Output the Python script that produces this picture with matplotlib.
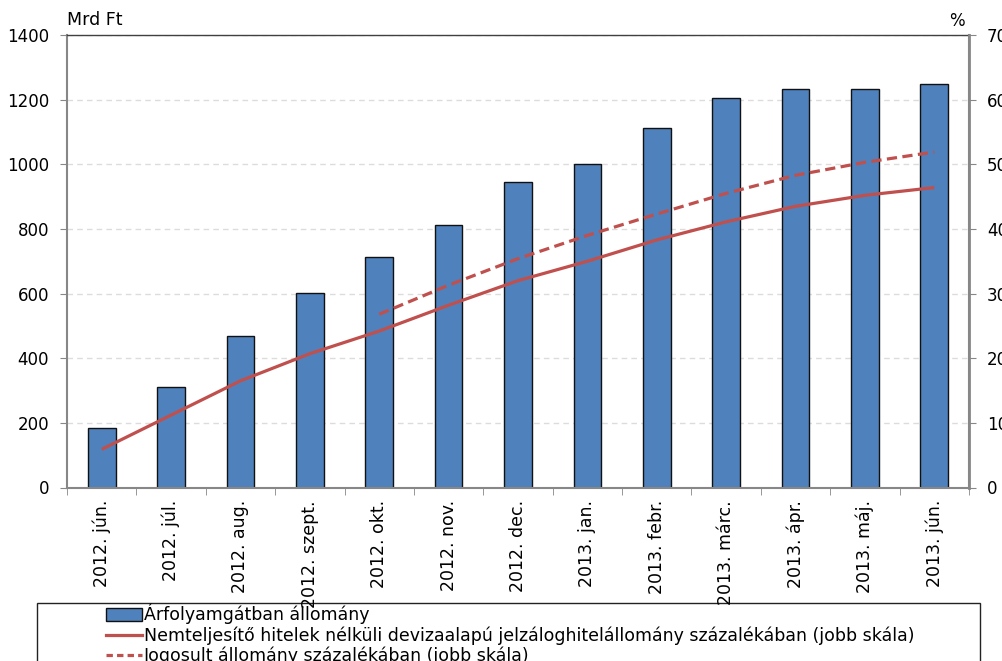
import matplotlib
matplotlib.use("Agg")
import matplotlib.pyplot as plt
from matplotlib.patches import Rectangle
from matplotlib.lines import Line2D
import numpy as np

categories = ["2012. jún.", "2012. júl.", "2012. aug.", "2012. szept.", "2012. okt.",
              "2012. nov.", "2012. dec.", "2013. jan.", "2013. febr.", "2013. márc.",
              "2013. ápr.", "2013. máj.", "2013. jún."]
bar_values = [183, 311, 469, 601, 712, 813, 944, 1000, 1111, 1204, 1232, 1232, 1249]
solid_pct = [5.9, 11.2, 16.5, 20.7, 24.2, 28.2, 32.0, 35.0, 38.3, 41.1, 43.5, 45.2, 46.4]
dashed_pct = [None, None, None, None, 26.8, 31.3, 35.4, 39.0, 42.3, 45.5, 48.3, 50.3, 51.9]

legend_labels = ["Árfolyamgátban állomány",
                 "Nemteljesítő hitelek nélküli devizaalapú jelzáloghitelállomány százalékában (jobb skála)",
                 "Jogosult állomány százalékában (jobb skála)"]

plt.rcParams['font.family'] = ['DejaVu Sans']
W, H = 1003, 661
fig = plt.figure(figsize=(W / 100, H / 100), dpi=100)

# legend box (drawn beneath the axes so the long tick labels overlap it)
rect = Rectangle((37 / W, -0.02), (980 - 37) / W, (H - 603) / H + 0.02, transform=fig.transFigure,
                 facecolor="white", edgecolor="#222222", linewidth=1.0, clip_on=False, zorder=-1)
fig.add_artist(rect)

ax = fig.add_axes([67 / W, (H - 487.5) / H, 902 / W, 452.5 / H])

x = np.arange(len(categories))
bar_color = "#4F81BD"
line_color = "#C0504D"
grey = "#878787"

ax.bar(x, bar_values, width=0.4, color=bar_color, edgecolor="#111111", linewidth=1.0, zorder=2)
ax.set_xlim(-0.5, len(categories) - 0.5)
ax.set_ylim(0, 1400)
ax.set_yticks(np.arange(0, 1401, 200))
ax.yaxis.grid(True, color="#DCDCDC", linestyle=(0, (4, 3)), linewidth=1.0, zorder=0)
ax.set_axisbelow(True)

ax.set_xticks(x)
ax.set_xticklabels(categories, rotation=90, fontsize=12.5)
ax.set_xticks(np.arange(-0.5, len(categories), 1), minor=True)
ax.tick_params(axis='x', which='major', length=0, pad=9)
ax.tick_params(axis='x', which='minor', length=5, color=grey, direction='out')
ax.tick_params(axis='y', length=5, color=grey, labelsize=12, pad=8)

for s in ["left", "bottom", "right"]:
    ax.spines[s].set_color(grey)
    ax.spines[s].set_linewidth(1.5)
ax.spines["top"].set_color("#404040")
ax.spines["top"].set_linewidth(1.0)

ax2 = ax.twinx()
ax2.set_ylim(0, 70)
ax2.set_yticks(np.arange(0, 71, 10))
ax2.tick_params(axis='y', length=5, color=grey, labelsize=12, pad=8)
for s in ["left", "bottom", "right", "top"]:
    ax2.spines[s].set_visible(False)
ax2.spines["right"].set_visible(True)
ax2.spines["right"].set_color(grey)
ax2.spines["right"].set_linewidth(2.0)

ax2.plot(x, solid_pct, color=line_color, linewidth=2.3, solid_capstyle='butt', zorder=3)
dx = [xi for xi, v in zip(x, dashed_pct) if v is not None]
dv = [v for v in dashed_pct if v is not None]
ax2.plot(dx, dv, color=line_color, linewidth=2.3, linestyle=(0, (3.2, 1.7)), zorder=3)

fig.text(67 / W, 1 - 20 / H, "Mrd Ft", fontsize=12.5, ha='left', va='center')
fig.text(965 / W, 1 - 21 / H, "%", fontsize=12, ha='right', va='center')

handles = [Rectangle((0, 0), 1, 1, facecolor=bar_color, edgecolor="#111111", linewidth=1.0),
           Line2D([], [], color=line_color, linewidth=2.3),
           Line2D([], [], color=line_color, linewidth=2.3, linestyle=(0, (2.0, 1.3)))]
leg = fig.legend(handles, legend_labels, loc='upper left', bbox_to_anchor=(104 / W, 1 - 602 / H),
                 frameon=False, fontsize=12.5, handlelength=2.1, handleheight=0.75,
                 handletextpad=0.1, labelspacing=0.12, borderpad=0.1, borderaxespad=0)
leg.set_zorder(6)

fig.savefig("out.png", dpi=100)
